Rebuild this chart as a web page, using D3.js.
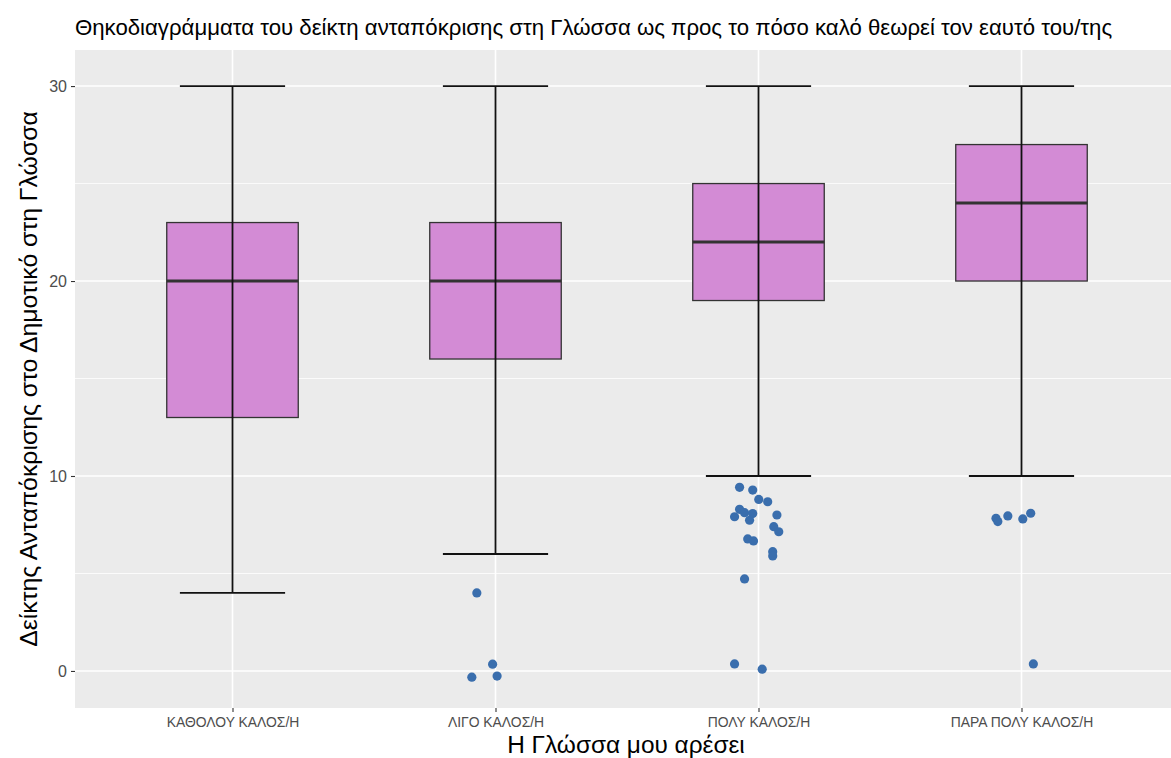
<!DOCTYPE html>
<html>
<head>
<meta charset="utf-8">
<script src="https://cdn.jsdelivr.net/npm/d3@7"></script>
<style>
  html, body { margin: 0; padding: 0; background: #ffffff; }
  svg { display: block; }
  text { font-family: "Liberation Sans", Arial, Helvetica, sans-serif; }
</style>
</head>
<body>
<svg id="chart" width="1171" height="758"></svg>
<script>
// ---- data ----
const categories = ["ΚΑΘΟΛΟΥ ΚΑΛΟΣ/Η", "ΛΙΓΟ ΚΑΛΟΣ/Η", "ΠΟΛΥ ΚΑΛΟΣ/Η", "ΠΑΡΑ ΠΟΛΥ ΚΑΛΟΣ/Η"];
const whiskerLow  = [4, 6, 10, 10];
const q1          = [13, 16, 19, 20];
const median      = [20, 20, 22, 24];
const q3          = [23, 23, 25, 27];
const whiskerHigh = [30, 30, 30, 30];

// outliers (jittered points): category index, horizontal jitter (in category units), value
const outlierCat    = [1, 1, 1, 1,
                       2, 2, 2, 2, 2, 2, 2, 2, 2, 2, 2, 2, 2, 2, 2, 2, 2, 2, 2,
                       3, 3, 3, 3, 3, 3];
const outlierJitter = [-0.071, -0.011, -0.090, 0.006,
                       -0.072, -0.022, 0.001, 0.035, -0.072, -0.091, -0.053, -0.022, -0.034, 0.070, 0.058, 0.077, -0.041, -0.019, 0.054, 0.054, -0.053, -0.091, 0.014,
                       -0.097, -0.090, -0.052, 0.005, 0.035, 0.045];
const outlierValue  = [4.0, 0.35, -0.32, -0.26,
                       9.42, 9.28, 8.80, 8.68, 8.29, 7.91, 8.12, 8.07, 7.73, 8.0, 7.40, 7.14, 6.77, 6.67, 6.12, 5.90, 4.72, 0.36, 0.09,
                       7.83, 7.66, 7.95, 7.80, 8.09, 0.36];

const yTicks = [0, 10, 20, 30];
const yMinor = [5, 15, 25];

const titleText = "Θηκοδιαγράμματα του δείκτη ανταπόκρισης στη Γλώσσα ως προς το πόσο καλό θεωρεί τον εαυτό του/της";
const xTitle = "Η Γλώσσα μου αρέσει";
const yTitle = "Δείκτης Ανταπόκρισης στο Δημοτικό στη Γλώσσα";

// ---- layout ----
const svg = d3.select("#chart");
const panel = { left: 75, right: 1171, top: 50, bottom: 708 };

const x = d3.scalePoint().domain(categories).range([232.5, 1021.5]);
const step = x.step();
const y = d3.scaleLinear().domain([-1.9, 31.85]).range([panel.bottom, panel.top]);

// panel background
svg.append("rect")
  .attr("x", panel.left).attr("y", panel.top)
  .attr("width", panel.right - panel.left).attr("height", panel.bottom - panel.top)
  .attr("fill", "#EBEBEB");

// minor grid
svg.append("g").selectAll("line").data(yMinor).join("line")
  .attr("x1", panel.left).attr("x2", panel.right)
  .attr("y1", d => y(d)).attr("y2", d => y(d))
  .attr("stroke", "#ffffff").attr("stroke-width", 0.8);

// major grid
svg.append("g").selectAll("line").data(yTicks).join("line")
  .attr("x1", panel.left).attr("x2", panel.right)
  .attr("y1", d => y(d)).attr("y2", d => y(d))
  .attr("stroke", "#ffffff").attr("stroke-width", 1.6);
svg.append("g").selectAll("line").data(categories).join("line")
  .attr("x1", d => x(d)).attr("x2", d => x(d))
  .attr("y1", panel.top).attr("y2", panel.bottom)
  .attr("stroke", "#ffffff").attr("stroke-width", 1.6);

// boxes
const boxW = 0.5 * step;
const capW = 0.4 * step;
const boxes = svg.append("g");
categories.forEach((c, i) => {
  const cx = x(c);
  boxes.append("rect")
    .attr("x", cx - boxW / 2).attr("y", y(q3[i]))
    .attr("width", boxW).attr("height", y(q1[i]) - y(q3[i]))
    .attr("fill", "#D38BD5").attr("stroke", "#333333").attr("stroke-width", 1.3);
});
// error bars (whiskers with caps) drawn over the boxes
const eb = svg.append("g").attr("stroke", "#111111").attr("stroke-width", 1.8).attr("fill", "none");
categories.forEach((c, i) => {
  const cx = x(c);
  eb.append("line").attr("x1", cx).attr("x2", cx).attr("y1", y(whiskerLow[i])).attr("y2", y(whiskerHigh[i]));
  eb.append("line").attr("x1", cx - capW / 2).attr("x2", cx + capW / 2).attr("y1", y(whiskerLow[i])).attr("y2", y(whiskerLow[i]));
  eb.append("line").attr("x1", cx - capW / 2).attr("x2", cx + capW / 2).attr("y1", y(whiskerHigh[i])).attr("y2", y(whiskerHigh[i]));
});
// medians
categories.forEach((c, i) => {
  const cx = x(c);
  boxes.append("line")
    .attr("x1", cx - boxW / 2).attr("x2", cx + boxW / 2)
    .attr("y1", y(median[i])).attr("y2", y(median[i]))
    .attr("stroke", "#333333").attr("stroke-width", 3);
});

// jittered outlier points
svg.append("g").selectAll("circle").data(outlierValue.map((v, i) => i)).join("circle")
  .attr("cx", i => x(categories[outlierCat[i]]) + outlierJitter[i] * step)
  .attr("cy", i => y(outlierValue[i]))
  .attr("r", 4.6)
  .attr("fill", "#3A6EAD");

// axes
const yAxis = d3.axisLeft(y).tickValues(yTicks).tickSize(4).tickPadding(4);
const gy = svg.append("g").attr("transform", `translate(${panel.left},0)`).call(yAxis);
gy.select(".domain").remove();
gy.selectAll(".tick line").attr("stroke", "#333333").attr("stroke-width", 1.1);
gy.selectAll(".tick text").attr("fill", "#4D4D4D").style("font-size", "16px")
  .style("font-family", "'Liberation Sans', Arial, sans-serif");

const xAxis = d3.axisBottom(x).tickSize(4).tickPadding(5);
const gx = svg.append("g").attr("transform", `translate(0,${panel.bottom})`).call(xAxis);
gx.select(".domain").remove();
gx.selectAll(".tick line").attr("stroke", "#333333").attr("stroke-width", 1.1);
gx.selectAll(".tick text").attr("fill", "#4D4D4D").style("font-size", "13.9px")
  .style("font-family", "'Liberation Sans', Arial, sans-serif");

// titles
svg.append("text")
  .attr("x", panel.left).attr("y", 35)
  .attr("fill", "#000000").style("font-size", "22.2px")
  .text(titleText);

svg.append("text")
  .attr("x", (panel.left + panel.right) / 2 + 3).attr("y", 753)
  .attr("text-anchor", "middle").attr("fill", "#000000").style("font-size", "24.4px")
  .text(xTitle);

svg.append("text")
  .attr("transform", `translate(37,${(panel.top + panel.bottom) / 2}) rotate(-90)`)
  .attr("text-anchor", "middle").attr("fill", "#000000").style("font-size", "24.8px")
  .text(yTitle);
</script>
</body>
</html>
